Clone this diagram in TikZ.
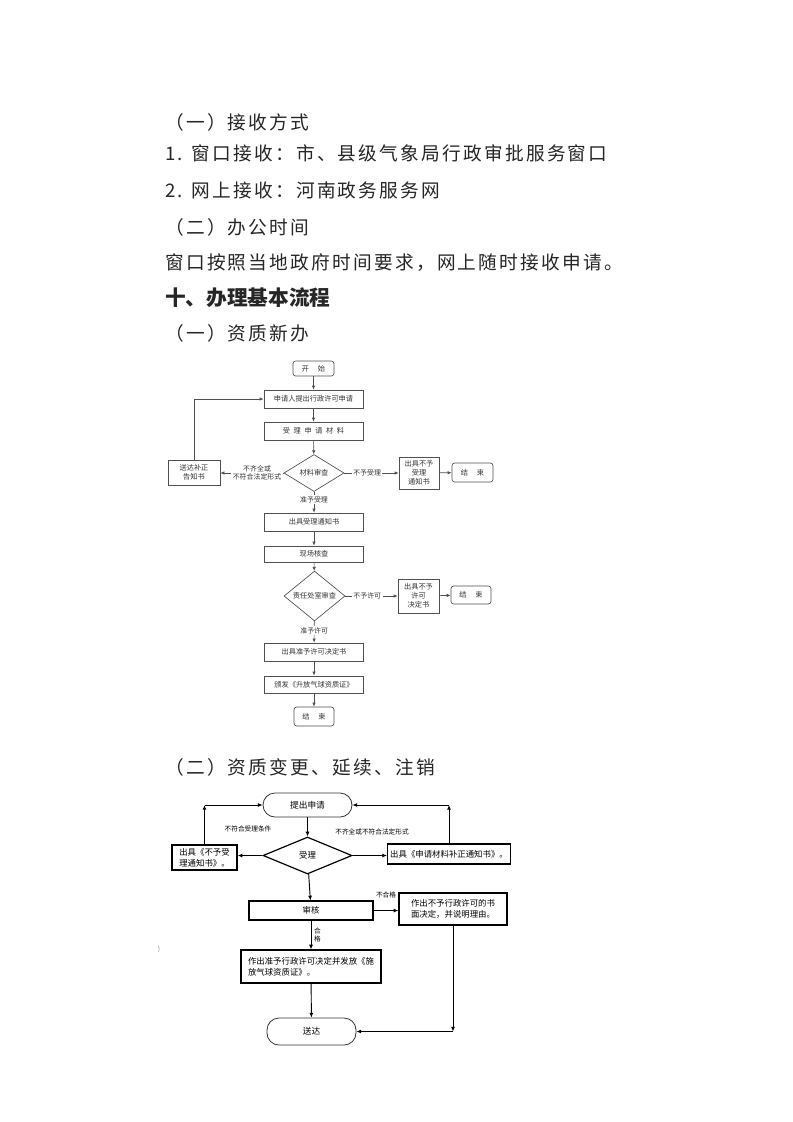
\documentclass[tikz,border=0pt]{standalone}
\usepackage{fontspec}
\setmainfont{Noto Sans CJK SC}
\newfontfamily\bodyfont{Noto Sans CJK SC}[LetterSpace=12]
\usetikzlibrary{shapes.geometric, arrows.meta}
\definecolor{flowgray}{RGB}{80,80,80}

\begin{document}
\begin{tikzpicture}[x=0.75pt, y=-0.75pt,
  bodytext/.style={anchor=west, inner sep=0pt, text=black!85, font=\bodyfont\fontsize{14pt}{18pt}\selectfont},
  box1/.style={draw=flowgray, line width=0.5pt, minimum width=74.25pt, minimum height=13.5pt, inner sep=1pt, align=center, text=black!80, font=\fontsize{5.4pt}{6.9pt}\selectfont},
  term1/.style={box1, rounded corners=2pt},
  dia1/.style={box1, diamond, inner sep=0pt},
  lab1/.style={fill=white, inner sep=1pt, align=center, text=black!80, font=\fontsize{5.2pt}{6.4pt}\selectfont},
  arr1/.style={draw=flowgray, line width=0.5pt, -{Latex[length=3pt, width=2.6pt]}},
  box2/.style={draw, line width=0.9pt, inner sep=2pt, align=left, font=\fontsize{6.3pt}{8.2pt}\selectfont},
  term2/.style={draw=black!80, line width=0.6pt, rounded corners=9pt, align=center, font=\fontsize{6.5pt}{8pt}\selectfont},
  dia2/.style={box2, diamond, inner sep=0pt, align=center},
  lab2/.style={inner sep=1pt, align=center, font=\fontsize{5pt}{6.5pt}\selectfont},
  arr2/.style={line width=0.7pt, -{Latex[length=3.5pt, width=3pt]}}]

\fill[white] (0,0) rectangle (793,1122);

\node[bodytext] (head1) at (165,122) {（一）接收方式};
\node[bodytext] (line1) at (165,153) {1. 窗口接收：市、县级气象局行政审批服务窗口};
\node[bodytext] (line2) at (165,190) {2. 网上接收：河南政务服务网};
\node[bodytext] (head2) at (165,227) {（二）办公时间};
\node[bodytext] (line3) at (165,263) {窗口按照当地政府时间要求，网上随时接收申请。};
\node[bodytext, font=\fontsize{15.5pt}{18pt}\selectfont\bfseries] (sect) at (165,298) {十、办理基本流程};
\node[bodytext] (head3) at (165,333) {（一）资质新办};
\node[bodytext] (head4) at (165,767) {（二）资质变更、延续、注销};

\node[term1, minimum width=30.75pt, minimum height=11.25pt] (start) at (313.5,368.5) {开\hspace{1.2em}始};
\node[box1] (apply) at (313.5,399) {申请人提出行政许可申请};
\node[box1] (take) at (313.5,431) {受\enspace 理\enspace 申\enspace 请\enspace 材\enspace 料};
\node[dia1, minimum width=45pt, minimum height=27.75pt] (check) at (314,473) {材料审查};
\node[box1, minimum width=39pt, minimum height=18.75pt] (fix) at (194,472.5) {送达补正\\告知书};
\node[box1, minimum width=30pt, minimum height=24pt] (noacc) at (419,473) {出具不予\\受理\\通知书};
\node[term1, minimum width=30.75pt, minimum height=14.25pt] (endA) at (472.5,472.5) {结\hspace{1.2em}束};
\node[box1] (notice) at (314,522) {出具受理通知书};
\node[box1, minimum height=12pt] (site) at (314,554) {现场核查};
\node[dia1, minimum width=45.75pt, minimum height=28.5pt] (review) at (314.5,596) {责任处室审查};
\node[box1, minimum width=30.75pt, minimum height=25.5pt] (noperm) at (418.5,596) {出具不予\\许可\\决定书};
\node[term1, minimum width=30pt, minimum height=13.5pt] (endB) at (471,595) {结\hspace{1.2em}束};
\node[box1] (permit) at (314,652) {出具准予许可决定书};
\node[box1, minimum height=12.75pt] (issue) at (314,684.5) {颁发《升放气球资质证》};
\node[term1, minimum width=30pt, minimum height=14.25pt] (endC) at (314,716.5) {结\hspace{1.2em}束};

\draw[arr1] (start) -- (apply);
\draw[arr1] (apply) -- (take);
\draw[arr1] (take) -- (check);
\draw[arr1] (check.west) -- node[lab1, pos=0.42] {不齐全或\\不符合法定形式} (check.west -| fix.east);
\draw[arr1] (check.east) -- node[lab1, pos=0.42] {不予受理} (check.east -| noacc.west);
\draw[arr1] (noacc) -- (endA);
\draw[arr1] (fix.north) |- (apply.west);
\draw[arr1] (check) -- node[lab1, pos=0.38] {准予受理} (notice);
\draw[arr1] (notice) -- (site);
\draw[arr1] (site) -- (review);
\draw[arr1] (review.east) -- node[lab1, pos=0.42] {不予许可} (review.east -| noperm.west);
\draw[arr1] (noperm) -- (endB);
\draw[arr1] (review) -- node[lab1, pos=0.43] {准予许可} (permit);
\draw[arr1] (permit) -- (issue);
\draw[arr1] (issue) -- (endC);

\node[term2, minimum width=66.75pt, minimum height=18pt] (submit) at (307.5,805) {提出申请};
\node[dia2, minimum width=66.75pt, minimum height=27.75pt] (judge) at (307.5,855.5) {受理};
\node[box2, minimum width=48.75pt, minimum height=18.75pt] (refuse) at (204.5,857.5) {出具《不予受\\理通知书》。};
\node[box2, minimum width=90.75pt, minimum height=15pt] (supp) at (449,854) {出具《申请材料补正通知书》。};
\node[box2, minimum width=93pt, minimum height=14.25pt, align=center] (audit) at (311,910.5) {审核};
\node[box2, minimum width=81pt, minimum height=24pt] (deny) at (453,909) {作出不予行政许可的书\\面决定，并说明理由。};
\node[box2, minimum width=105pt, minimum height=24.75pt] (grant) at (311,966.5) {作出准予行政许可决定并发放《施\\放气球资质证》。};
\node[term2, minimum width=66.75pt, minimum height=20.25pt] (deliver) at (311.5,1031.5) {送达};
\node[lab2] (why1) at (248,829) {不符合受理条件};
\node[lab2] (why2) at (372,832) {不齐全或不符合法定形式};
\node[lab2, text=black!50] (mark) at (159,949) {)};

\coordinate (cl) at (refuse.north |- submit.west);
\coordinate (cr) at (supp.north |- submit.east);
\coordinate (cb) at (deny.south |- deliver.east);

\draw[arr2] (submit) -- (judge);
\draw[arr2] (judge.west) -- (judge.west -| refuse.east);
\draw[arr2] (judge.east) -- (judge.east -| supp.west);
\draw[arr2] (refuse.north) -- (cl);
\draw[arr2] (cl) -- (submit.west);
\draw[arr2] (supp.north) -- (cr);
\draw[arr2] (cr) -- (submit.east);
\draw[arr2] (judge) -- (audit);
\draw[arr2] (audit.east) -- node[lab2, above=8pt] {不合格} (audit.east -| deny.west);
\draw[arr2] (audit) -- node[lab2, right=1pt] {合\\格} (grant);
\draw[arr2] (grant) -- (deliver);
\draw[arr2] (deny.south) -- (cb);
\draw[arr2] (cb) -- (deliver.east);
\end{tikzpicture}
\end{document}
